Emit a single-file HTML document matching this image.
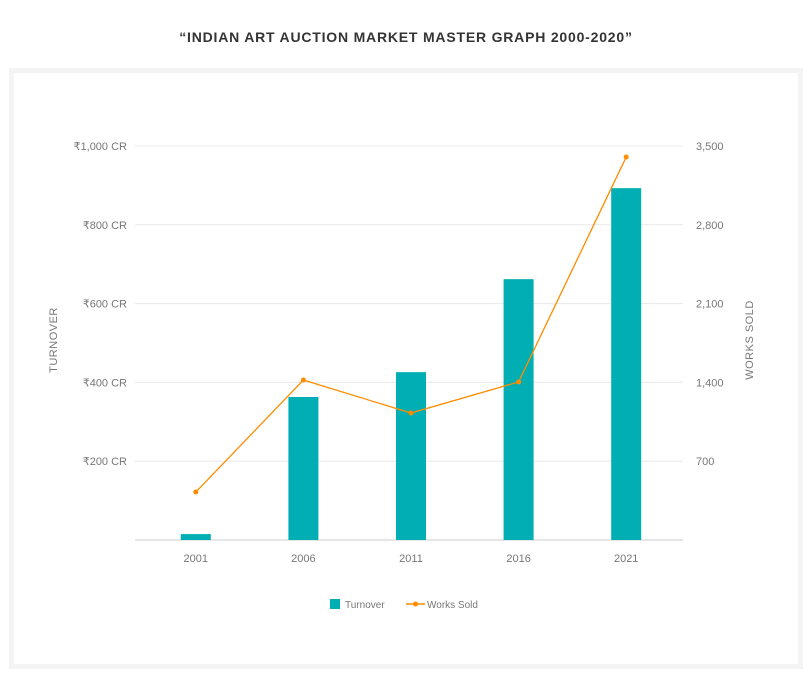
<!DOCTYPE html>
<html><head><meta charset="utf-8"><style>
body{margin:0;background:#fff;width:812px;height:679px;overflow:hidden;font-family:"Liberation Sans",sans-serif}
#title{position:absolute;top:29px;left:0;width:812px;text-align:center;font-weight:bold;font-size:14px;letter-spacing:0.8px;color:#333}
#frame{position:absolute;left:9px;top:68px;width:784px;height:591px;border:5px solid #f4f4f4;background:#fff}
svg{position:absolute;left:0;top:0}
</style></head><body>
<div id="title">“INDIAN ART AUCTION MARKET MASTER GRAPH 2000-2020”</div>
<div id="frame"></div>
<svg id="chart" width="812" height="679"></svg>
<script>
const categories=["2001","2006","2011","2016","2021"];
const turnover=[15,363,426,662,893];
const worksSold=[426,1421,1128,1404,3402];
const leftTicks=[200,400,600,800,1000];
const leftTickLabels=["₹200 CR","₹400 CR","₹600 CR","₹800 CR","₹1,000 CR"];
const rightTicks=[700,1400,2100,2800,3500];
const rightTickLabels=["700","1,400","2,100","2,800","3,500"];

const svg=document.getElementById('chart');
const NS='http://www.w3.org/2000/svg';
const X0=135,X1=683,Y0=540,Y1=146,B0=142,B1=680;
const yL=v=>Y0-(v/1000)*(Y0-Y1);
const yR=v=>Y0-(v/3500)*(Y0-Y1);
const bw=(B1-B0)/categories.length;
const xC=i=>B0+bw*(i+0.5);
function el(t,a,txt){const e=document.createElementNS(NS,t);for(const k in a)e.setAttribute(k,a[k]);if(txt!=null)e.textContent=txt;svg.appendChild(e);return e;}

leftTicks.forEach((v,i)=>{
  const g=el('line',{x1:X0,x2:X1,y1:yL(v),y2:yL(v),stroke:'#e8e8e8','stroke-width':1});
  
  
  const t=el('text',{x:127,y:yL(v)+4,'text-anchor':'end','font-size':11,fill:'#777'},leftTickLabels[i]);
  
  
});
rightTicks.forEach((v,i)=>{
  const t=el('text',{x:696,y:yR(v)+4,'text-anchor':'start','font-size':11,fill:'#777'},rightTickLabels[i]);
  
  
});
const base=el('line',{x1:X0,x2:X1,y1:Y0,y2:Y0,stroke:'#ccc','stroke-width':1});



categories.forEach((c,i)=>{
  const b=el('rect',{x:xC(i)-15,y:yL(turnover[i]),width:30,height:Y0-yL(turnover[i]),fill:'#00aeb3'});
  
  
  const t=el('text',{x:xC(i),y:562,'text-anchor':'middle','font-size':11,fill:'#777'},c);
  
  
});
const pts=worksSold.map((v,i)=>xC(i)+','+yR(v)).join(' ');
const line=el('polyline',{points:pts,fill:'none',stroke:'#ff8c00','stroke-width':1.3});


worksSold.forEach((v,i)=>{
  const p=el('circle',{cx:xC(i),cy:yR(v),r:2.5,fill:'#ff8c00'});
  
  
});
const lt=el('text',{transform:'translate(57,340) rotate(-90)','text-anchor':'middle','font-size':11,fill:'#777','letter-spacing':'0.5'},'TURNOVER');


const rt=el('text',{transform:'translate(753,340) rotate(-90)','text-anchor':'middle','font-size':11,fill:'#777','letter-spacing':'0.5'},'WORKS SOLD');


// legend
const l1=el('rect',{x:330,y:599,width:10,height:10,fill:'#00aeb3'});


const l1t=el('text',{x:345,y:608,'font-size':10,fill:'#777'},'Turnover');


const l2=el('line',{x1:406,x2:425,y1:604,y2:604,stroke:'#ff8c00','stroke-width':1.5});


const l2c=el('circle',{cx:415.5,cy:604,r:2.5,fill:'#ff8c00'});


const l2t=el('text',{x:427,y:608,'font-size':10,fill:'#777'},'Works Sold');


</script>
</body></html>
